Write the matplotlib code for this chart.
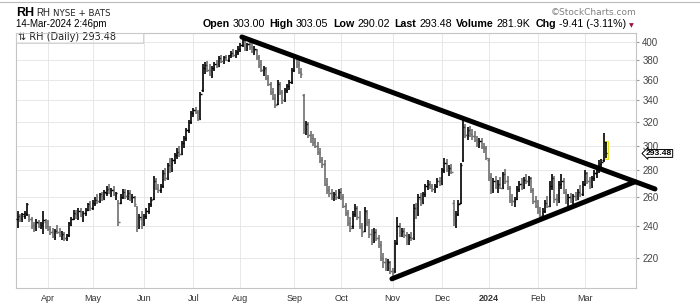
import numpy as np
import pandas as pd
import matplotlib
matplotlib.use('Agg')
import matplotlib.pyplot as plt
from matplotlib.patches import Rectangle
from matplotlib.lines import Line2D
import matplotlib.transforms as mtrans

# trading days, Mar 15 2023 -> Mar 14 2024
holidays = ['2023-04-07', '2023-05-29', '2023-06-19', '2023-07-04', '2023-09-04',
            '2023-11-23', '2023-12-25', '2024-01-01', '2024-01-15', '2024-02-19']
dates = pd.bdate_range('2023-03-15', '2024-03-14', freq='C', holidays=holidays)

# OHLC, one row per month
opens = [245, 246, 245, 247, 248, 247, 245, 241, 238, 242, 240, 242, 243,
         240, 238, 236, 233, 237, 236, 234, 235, 232, 234, 241, 245, 248, 246, 250, 247, 249, 251, 254,
         252, 256, 258, 257, 261, 259, 263, 266, 263, 265, 262, 256, 256, 260, 264, 261, 263, 258, 260, 252, 240, 245,
         242, 247, 250, 255, 259, 272, 267, 265, 268, 277, 274, 284, 281, 288, 292, 295, 293, 302, 306, 313, 320,
         328, 331, 329, 323, 350, 372, 375, 370, 366, 372, 376, 374, 382, 379, 383, 380, 385, 388, 385, 389,
         392, 396, 401, 393, 397, 394, 390, 391, 383, 376, 370, 371, 362, 356, 348, 342, 337, 355, 348, 340, 350, 354, 358,
         370, 383, 376, 368, 345, 314, 318, 309, 306, 303, 300, 295, 288, 285, 270, 265, 263, 260, 262, 260,
         264, 260, 254, 249, 242, 240, 248, 252, 246, 240, 237, 249, 243, 235, 230, 236, 232, 228, 220, 217, 214, 217,
         212, 212, 229, 240, 236, 237, 234, 230, 233, 232, 252, 248, 259, 256, 262, 268, 270, 268, 266, 268, 272,
         270, 280, 286, 281, 282, 256, 244, 248, 256, 288, 316, 309, 313, 310, 308, 305, 302, 304, 299, 298,
         288, 275, 265, 272, 268, 270, 267, 277, 272, 267, 258, 257, 259, 266, 270, 268, 273, 272, 274, 265, 257,
         254, 250, 247, 250, 256, 254, 268, 274, 259, 257, 270, 272, 264, 258, 260, 258, 261, 259, 264, 262,
         270, 278, 272, 268, 274, 278, 280, 285, 288, 303.00]
highs = [250, 248, 249, 250, 256, 248, 246, 243, 245, 244, 243, 250, 245,
         244, 240, 239, 238, 241, 239, 237, 236, 235, 243, 246, 251, 251, 252, 252, 250, 252, 256, 257,
         258, 260, 262, 263, 264, 265, 268, 270, 267, 268, 264, 258, 262, 266, 266, 265, 265, 262, 261, 254, 248, 250,
         248, 252, 256, 260, 276, 274, 270, 270, 280, 282, 286, 290, 290, 294, 298, 300, 304, 308, 315, 322, 330,
         333, 334, 331, 348, 376, 378, 379, 376, 374, 378, 380, 384, 385, 384, 386, 386, 390, 392, 391, 395,
         398, 404, 403, 399, 400, 398, 395, 392, 386, 380, 374, 373, 365, 358, 352, 346, 360, 358, 350, 352, 356, 360, 372,
         386, 386, 380, 372, 346, 321, 320, 312, 310, 306, 303, 298, 291, 288, 274, 268, 266, 264, 265, 266,
         267, 262, 256, 251, 246, 250, 255, 254, 250, 242, 253, 251, 245, 238, 239, 238, 234, 230, 223, 220, 219, 218,
         214, 231, 246, 242, 239, 239, 236, 235, 236, 255, 256, 262, 263, 264, 270, 273, 272, 270, 270, 274, 275,
         282, 290, 289, 284, 285, 258, 250, 258, 286, 322, 318, 316, 317, 314, 312, 308, 306, 306, 302, 300,
         290, 278, 274, 276, 273, 275, 279, 281, 276, 268, 262, 260, 268, 272, 274, 275, 277, 276, 275, 267, 261,
         258, 253, 252, 258, 261, 272, 277, 276, 262, 272, 277, 274, 266, 262, 263, 262, 264, 266, 269, 272,
         280, 279, 275, 276, 280, 282, 288, 289, 311, 303.05]
lows = [239, 243, 243, 245, 247, 243, 238, 236, 237, 239, 238, 235, 238,
        237, 234, 232, 231, 235, 233, 231, 230, 230, 233, 240, 244, 245, 244, 246, 243, 247, 250, 250,
        251, 254, 255, 256, 257, 258, 261, 262, 260, 261, 258, 240, 255, 259, 259, 258, 257, 256, 253, 236, 238, 238,
        240, 245, 248, 253, 258, 265, 263, 263, 267, 272, 273, 278, 279, 285, 289, 291, 292, 298, 304, 311, 318,
        325, 327, 321, 322, 348, 366, 368, 364, 362, 369, 372, 373, 377, 376, 379, 378, 382, 383, 382, 386,
        389, 394, 390, 390, 391, 388, 386, 380, 372, 368, 364, 360, 354, 345, 340, 333, 336, 345, 337, 338, 347, 350, 356,
        368, 372, 366, 362, 310, 309, 306, 302, 300, 298, 292, 286, 282, 268, 262, 260, 258, 257, 258, 259,
        258, 252, 247, 240, 236, 238, 246, 244, 238, 233, 236, 240, 232, 228, 229, 230, 226, 218, 214, 212, 212, 210,
        207, 211, 228, 233, 233, 232, 228, 228, 230, 231, 245, 247, 254, 255, 260, 265, 266, 264, 263, 267, 268,
        269, 278, 279, 276, 277, 240, 239, 247, 255, 287, 306, 305, 307, 305, 303, 299, 298, 297, 294, 288,
        272, 262, 263, 266, 263, 266, 266, 270, 265, 256, 254, 253, 258, 264, 265, 266, 270, 268, 263, 255, 252,
        248, 245, 244, 249, 252, 253, 265, 256, 254, 256, 266, 262, 255, 254, 256, 255, 257, 258, 260, 261,
        268, 270, 266, 267, 272, 274, 278, 280, 287, 290.02]
closes = [247, 244, 248, 249, 255, 245, 240, 238, 243, 240, 241, 244, 240,
          238, 236, 233, 237, 236, 234, 235, 232, 234, 242, 245, 249, 246, 250, 247, 249, 251, 255, 252,
          256, 258, 257, 262, 259, 264, 266, 263, 265, 262, 263, 243, 260, 264, 261, 263, 258, 260, 255, 240, 246, 242,
          247, 250, 255, 258, 272, 267, 265, 268, 278, 274, 284, 281, 288, 292, 295, 293, 302, 306, 313, 320, 328,
          331, 329, 323, 346, 372, 375, 370, 366, 372, 376, 374, 382, 379, 383, 380, 385, 388, 385, 389, 392,
          396, 402, 393, 397, 394, 390, 392, 383, 375, 370, 372, 362, 356, 348, 342, 336, 356, 348, 340, 350, 354, 358, 370,
          383, 375, 368, 366, 314, 318, 309, 306, 303, 300, 295, 288, 285, 270, 265, 263, 260, 262, 260, 264,
          260, 254, 249, 242, 239, 248, 252, 246, 240, 236, 250, 243, 235, 230, 236, 232, 228, 220, 217, 214, 217, 212,
          211, 229, 240, 236, 237, 234, 230, 233, 232, 252, 248, 260, 256, 262, 268, 270, 268, 266, 268, 272, 270,
          280, 286, 281, 282, 279, 244, 248, 255, 284, 316, 309, 313, 310, 308, 305, 302, 304, 299, 298, 290,
          275, 265, 272, 268, 270, 267, 277, 272, 267, 258, 257, 259, 266, 270, 268, 273, 272, 274, 265, 257, 254,
          250, 247, 250, 256, 254, 268, 274, 259, 257, 270, 272, 264, 258, 260, 258, 261, 259, 264, 262, 270,
          278, 272, 268, 274, 278, 280, 285, 287, 302.89, 293.48]

month_labels = ['Apr', 'May', 'Jun', 'Jul', 'Aug', 'Sep', 'Oct', 'Nov', 'Dec', '2024', 'Feb', 'Mar']
price_ticks = [220, 240, 260, 280, 300, 320, 340, 360, 380, 400]

# trend lines, (bar index, price) at the ends
upper_x, upper_y = [95.7, 271.9], [405.2, 266.0]
lower_x, lower_y = [159.7, 263.3], [207.4, 271.3]

n = len(dates)
x = np.arange(n)
o, h, l, c = (np.array(v, float) for v in (opens, highs, lows, closes))
month_pos = [i for i in range(1, n) if dates[i].month != dates[i - 1].month]

fig = plt.figure(figsize=(7, 3.05), dpi=100)
W, H = 700, 305
ax = fig.add_axes([16 / W, 1 - 288 / H, 620 / W, 255 / H])
ax.set_yscale('log')
ax.set_ylim(202.2, 409.7)
ax.set_xlim(-0.65, 263.8)

for sp in ax.spines.values():
    sp.set_color('#c4c4c4')
    sp.set_linewidth(0.8)

ax.yaxis.tick_right()
ax.set_yticks(price_ticks)
ax.set_yticklabels([str(p) for p in price_ticks])
ax.yaxis.set_minor_locator(matplotlib.ticker.NullLocator())
ax.tick_params(axis='y', length=2.5, pad=2, color='#999999', labelsize=7, labelcolor='#444444')
for t in ax.get_yticklabels():
    t.set_fontfamily(['Liberation Sans', 'DejaVu Sans'])

ax.set_xticks(month_pos)
ax.set_xticklabels(month_labels)
ax.tick_params(axis='x', length=0, pad=4, labelsize=6.5, labelcolor='#333333')
for t in ax.get_xticklabels():
    t.set_fontfamily(['Liberation Sans Narrow', 'Liberation Sans', 'DejaVu Sans'])
    if t.get_text() == '2024':
        t.set_fontweight('bold')

ax.grid(True, color='#e4e4e4', lw=0.6)
ax.set_axisbelow(True)

# today's bar highlight
ax.add_patch(Rectangle((n - 1 - 0.6, l[-1] - 1), 1.3, h[-1] - l[-1] + 2,
                       fc='#ffff70', ec='#e0d800', lw=0.6, zorder=2))

up = np.r_[True, np.diff(c) >= 0]
cols = np.where(up, '#000000', '#6e6e6e')
cols[-1] = '#000000'
ax.vlines(x, l, h, colors=cols, lw=1.2, zorder=3)
ax.hlines(o, x - 0.55, x, colors=cols, lw=1.0, zorder=3)
ax.hlines(c, x, x + 0.55, colors=cols, lw=1.0, zorder=3)

for tx, ty in ((upper_x, upper_y), (lower_x, lower_y)):
    ax.plot(tx, ty, color='black', lw=3.6, solid_capstyle='round', clip_on=False, zorder=5)

# last price marker
trans = mtrans.blended_transform_factory(ax.transAxes, ax.transData)
ax.text((646 - 16) / 620, c[-1], '%.2f' % c[-1], transform=trans, ha='left', va='center',
        fontsize=6.1, fontweight='bold', family=['Liberation Sans Narrow', 'Liberation Sans', 'DejaVu Sans'],
        bbox=dict(boxstyle='larrow,pad=0.05', fc='white', ec='black', lw=0.7), clip_on=False, zorder=6)

# legend box
ax.text(2 / 620, 1 - 4.5 / 255, '\u21c5 RH (Daily) %.2f' % c[-1], transform=ax.transAxes,
        ha='left', va='center', fontsize=7, color='#222222', family='DejaVu Sans')
fig.add_artist(Rectangle((16 / W, 1 - 43 / H), 127 / W, 10 / H, transform=fig.transFigure,
                         fc='none', ec='#cccccc', lw=0.6))

# header
fig.add_artist(Line2D([0, 1], [1 - 1.5 / H] * 2, color='#bbbbbb', lw=0.8, transform=fig.transFigure))
hf = ['Liberation Sans', 'DejaVu Sans']
fig.text(16 / W, 1 - 16.5 / H, 'RH', fontsize=9, fontweight='bold', family=hf, va='baseline')
fig.text(36 / W, 1 - 16.5 / H, 'RH', fontsize=7, family=hf, va='baseline', color='#222222')
fig.text(53 / W, 1 - 16.5 / H, 'NYSE + BATS', fontsize=6.2, family='DejaVu Sans', va='baseline',
         color='#222222')
fig.text(16 / W, 1 - 27 / H, '14-Mar-2024 2:46pm', fontsize=7, family=hf, va='baseline')
fig.text(636 / W, 1 - 15 / H, '\u00a9StockCharts.com', fontsize=6.5, family='DejaVu Sans', va='baseline',
         ha='right', color='#808080')

parts = [('Open', 'bold'), ('303.00', 'normal'), ('High', 'bold'), ('303.05', 'normal'),
         ('Low', 'bold'), ('290.02', 'normal'), ('Last', 'bold'), ('293.48', 'normal'),
         ('Volume', 'bold'), ('281.9K', 'normal'), ('Chg', 'bold'), ('-9.41 (-3.11%)', 'normal')]
r = fig.canvas.get_renderer()
items = []
for s, w in parts:
    t = fig.text(0, 1 - 27 / H, s, fontsize=7.7, fontweight=w, family=hf, va='baseline')
    items.append(t)
widths = [t.get_window_extent(r).width for t in items]
gaps = [3 if i % 2 == 0 else 4.5 for i in range(len(parts) - 1)]
total = sum(widths) + sum(gaps)
xp = 626 - total
for i, t in enumerate(items):
    t.set_x(xp / W)
    xp += widths[i] + (gaps[i] if i < len(gaps) else 0)
fig.text(629 / W, 1 - 27 / H, '\u25bc', fontsize=4.5, color='#a0103c', va='baseline')

fig.savefig('out.png', dpi=100)
